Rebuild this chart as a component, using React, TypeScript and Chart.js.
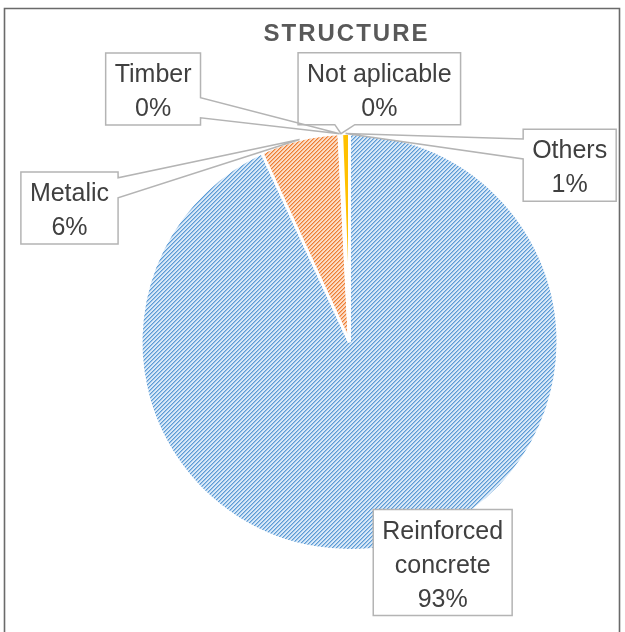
import React, { useEffect, useRef } from 'react';
import { Chart, registerables } from 'chart.js';

Chart.register(...registerables);

// ---- data ----
const TITLE = 'STRUCTURE';
const categories = ['Reinforced concrete', 'Metalic', 'Timber', 'Not aplicable', 'Others'];
const labelLines = [['Reinforced', 'concrete'], ['Metalic'], ['Timber'], ['Not aplicable'], ['Others']];
const shares = [93.1, 6.1, 0.1, 0.1, 0.6];

// ---- layout (label box centres relative to pie centre, in pie radii) ----
const labelOffsetX = [0.447, -1.343, -0.942, 0.143, 1.056];
const labelOffsetY = [1.058, -0.643, -1.213, -1.215, -0.848];

const W = 625;
const H = 632;
const LABEL_FONT = '25px "Liberation Sans", Arial, sans-serif';
const TITLE_FONT = 'bold 24px "Liberation Sans", Arial, sans-serif';
const LINE_H = 34;
const PAD_X = 9;
const WEDGE_HW = 10;

function makeHatch(ctx: CanvasRenderingContext2D, bg: string, mid: string, dark: string) {
  const c = document.createElement('canvas');
  c.width = 4;
  c.height = 4;
  const g = c.getContext('2d')!;
  g.fillStyle = bg;
  g.fillRect(0, 0, 4, 4);
  for (let x = 0; x < 4; x++) {
    g.fillStyle = dark;
    g.fillRect(x, 3 - x, 1, 1);
    g.fillStyle = mid;
    g.fillRect(x, (4 - x) % 4, 1, 1);
  }
  return ctx.createPattern(c, 'repeat')!;
}

const clamp = (v: number, a: number, b: number) => Math.max(a, Math.min(b, v));

const calloutPlugin = {
  id: 'callouts',
  beforeDraw(chart: any) {
    const ctx = chart.ctx as CanvasRenderingContext2D;
    ctx.save();
    ctx.fillStyle = '#ffffff';
    ctx.fillRect(0, 0, W, H);
    ctx.strokeStyle = '#6a6a6a';
    ctx.lineWidth = 1.6;
    ctx.beginPath();
    ctx.moveTo(4.5, H + 2);
    ctx.lineTo(4.5, 8.5);
    ctx.lineTo(619.5, 8.5);
    ctx.lineTo(619.5, H + 2);
    ctx.stroke();
    ctx.restore();
  },
  afterDraw(chart: any) {
    const ctx = chart.ctx as CanvasRenderingContext2D;
    const meta = chart.getDatasetMeta(0);
    const total = shares.reduce((a, b) => a + b, 0);
    const a0 = meta.data[0];
    const cx = a0.x;
    const cy = a0.y;
    const R = a0.outerRadius;

    // title
    ctx.save();
    ctx.font = TITLE_FONT;
    (ctx as any).letterSpacing = '2px';
    ctx.fillStyle = '#595959';
    ctx.textAlign = 'center';
    ctx.textBaseline = 'alphabetic';
    ctx.fillText(TITLE, cx - 3, 41);
    ctx.restore();

    ctx.save();
    ctx.font = LABEL_FONT;
    const items: any[] = [];
    meta.data.forEach((arc: any, i: number) => {
      const mid = (arc.startAngle + arc.endAngle) / 2;
      const ax = arc.x + arc.outerRadius * Math.cos(mid);
      const ay = arc.y + arc.outerRadius * Math.sin(mid);
      const lines = [...labelLines[i], Math.round((shares[i] * 100) / total) + '%'];
      const w = Math.max(...lines.map((l) => ctx.measureText(l).width)) + 2 * PAD_X;
      const h = lines.length * LINE_H + 4;
      const bx = cx + labelOffsetX[i] * R;
      const by = cy + labelOffsetY[i] * R;
      const L = bx - w / 2, T = by - h / 2, Rr = bx + w / 2, B = by + h / 2;
      const inside = ax >= L && ax <= Rr && ay >= T && ay <= B;
      let edge: string | null = null;
      let base = 0;
      if (!inside) {
        const dx = ax - bx, dy = ay - by;
        const tx = dx !== 0 ? w / 2 / Math.abs(dx) : Infinity;
        const ty = dy !== 0 ? h / 2 / Math.abs(dy) : Infinity;
        if (tx < ty) {
          edge = dx > 0 ? 'right' : 'left';
          const iy = by + dy * tx;
          const ny = clamp(ay, T + WEDGE_HW, B - WEDGE_HW);
          base = clamp((iy + ny) / 2, T + WEDGE_HW, B - WEDGE_HW);
        } else {
          edge = dy > 0 ? 'bottom' : 'top';
          const ix = bx + dx * ty;
          const nx = clamp(ax, L + WEDGE_HW, Rr - WEDGE_HW);
          base = clamp((ix + nx) / 2, L + WEDGE_HW, Rr - WEDGE_HW);
        }
      }
      items.push({ ax, ay, lines, L, T, Rr, B, bx, edge, base });
    });

    const buildPath = (it: any) => {
      const { ax, ay, L, T, Rr, B, edge, base } = it;
      ctx.beginPath();
      ctx.moveTo(L, T);
      if (edge === 'top') {
        ctx.lineTo(base - WEDGE_HW, T);
        ctx.lineTo(ax, ay);
        ctx.lineTo(base + WEDGE_HW, T);
      }
      ctx.lineTo(Rr, T);
      if (edge === 'right') {
        ctx.lineTo(Rr, base - WEDGE_HW);
        ctx.lineTo(ax, ay);
        ctx.lineTo(Rr, base + WEDGE_HW);
      }
      ctx.lineTo(Rr, B);
      if (edge === 'bottom') {
        ctx.lineTo(base + WEDGE_HW, B);
        ctx.lineTo(ax, ay);
        ctx.lineTo(base - WEDGE_HW, B);
      }
      ctx.lineTo(L, B);
      if (edge === 'left') {
        ctx.lineTo(L, base + WEDGE_HW);
        ctx.lineTo(ax, ay);
        ctx.lineTo(L, base - WEDGE_HW);
      }
      ctx.closePath();
    };

    ctx.fillStyle = '#ffffff';
    items.forEach((it) => {
      buildPath(it);
      ctx.fill();
    });
    ctx.strokeStyle = '#b4b4b4';
    ctx.lineWidth = 1.5;
    ctx.lineJoin = 'miter';
    items.forEach((it) => {
      buildPath(it);
      ctx.stroke();
    });

    ctx.fillStyle = '#404040';
    ctx.textAlign = 'center';
    ctx.textBaseline = 'alphabetic';
    items.forEach((it) => {
      it.lines.forEach((l: string, k: number) => {
        ctx.fillText(l, it.bx, it.T + 29 + k * LINE_H);
      });
    });
    ctx.restore();
  },
};

export default function App() {
  const ref = useRef<HTMLCanvasElement | null>(null);

  useEffect(() => {
    const canvas = ref.current!;
    const ctx = canvas.getContext('2d')!;
    const blueHatch = makeHatch(ctx, '#D9E9F8', '#9DC3E6', '#5B9BD5');
    const orangeHatch = makeHatch(ctx, '#FCDCC6', '#F4B183', '#ED7D31');
    const chart = new Chart(canvas, {
      type: 'pie',
      data: {
        labels: categories,
        datasets: [
          {
            data: shares,
            backgroundColor: [blueHatch, orangeHatch, '#A5A5A5', '#4472C4', '#FFC000'],
            borderColor: '#ffffff',
            borderWidth: 3,
            hoverOffset: 0,
          },
        ],
      },
      options: {
        responsive: false,
        animation: false,
        layout: { padding: { left: 139.5, right: 65.5, top: 132, bottom: 80 } },
        plugins: {
          legend: { display: false },
          title: { display: false },
          tooltip: { enabled: false },
        },
        events: [],
      },
      plugins: [calloutPlugin],
    });
    return () => chart.destroy();
  }, []);

  return (
    <div style={{ position: 'fixed', left: 0, top: 0, width: W, height: H, background: '#fff' }}>
      <canvas ref={ref} width={W} height={H} style={{ display: 'block', width: W, height: H }} />
    </div>
  );
}
